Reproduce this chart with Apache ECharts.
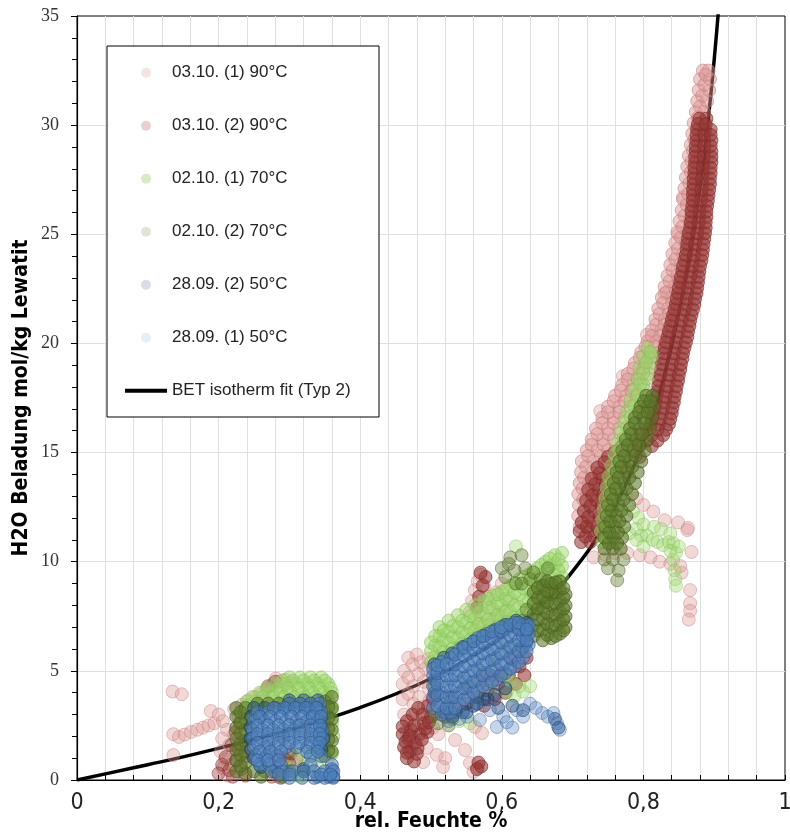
<!DOCTYPE html>
<html>
<head>
<meta charset="utf-8">
<script src="https://cdn.jsdelivr.net/npm/echarts@6/dist/echarts.min.js"></script>
<style>
  html, body { margin: 0; background: #fff; }
  #chart { width: 790px; height: 832px; }
</style>
</head>
<body>
<div id="chart"></div>
<script>
// Wasserbeladung Lewatit vs. rel. Feuchte, Messreihen + BET-Fit.

const NAMES = ['03.10. (1) 90°C', '03.10. (2) 90°C', '02.10. (1) 70°C', '02.10. (2) 70°C',
  '28.09. (2) 50°C', '28.09. (1) 50°C', 'BET isotherm fit (Typ 2)']

// --- 03.10. (1) 90°C
const P1_LEFT = [[0.135,4.05],[0.148,3.93],[0.189,3.16],[0.136,2.1],[0.144,1.97],[0.152,2.08],[0.161,2.2],
  [0.17,2.3],[0.178,2.4],[0.186,2.5],[0.194,2.6],[0.136,1.14],[0.2,3.0],[0.206,2.7],[0.212,2.3],[0.205,1.9],
  [0.215,1.6],[0.203,1.3],[0.21,0.95],[0.206,0.55],[0.213,0.2],[0.222,3.25],[0.228,2.9],[0.222,2.1],[0.226,1.3],
  [0.218,0.7],[0.233,3.45],[0.242,3.65],[0.252,3.8],[0.26,3.95],[0.268,4.15],[0.276,4.35],[0.285,4.5],
  [0.294,4.6],[0.302,4.45],[0.281,4.65],[0.29,4.25],[0.266,3.7],[0.284,0.15],[0.296,0.9]]
const P1_MID = [[0.462,5.0],[0.468,5.6],[0.474,5.3],[0.48,5.75],[0.486,5.4],[0.492,5.1],[0.497,5.55],[0.503,5.25],
  [0.46,4.4],[0.468,4.7],[0.475,4.3],[0.482,4.85],[0.49,4.5],[0.497,4.2],[0.505,4.6],[0.46,3.7],[0.468,3.95],
  [0.475,3.5],[0.483,3.8],[0.49,3.35],[0.498,3.65],[0.505,3.1],[0.462,3.0],[0.47,2.7],[0.478,3.1],[0.487,2.55],
  [0.495,2.85],[0.503,2.4],[0.51,2.1],[0.465,2.25],[0.475,1.95],[0.486,2.05],[0.472,1.5],[0.494,1.47],
  [0.508,1.15],[0.52,1.0],[0.489,0.82],[0.534,1.83],[0.548,1.37],[0.555,0.78],[0.566,0.55],[0.562,2.43],
  [0.572,2.15],[0.517,0.6],[0.56,0.38]]
const P1_MIDUP = [[0.555,7.7],[0.558,8.2],[0.562,8.7],[0.566,9.1],[0.57,9.4],[0.575,8.9],[0.58,8.4],[0.586,7.9],
  [0.592,8.6],[0.6,9.0],[0.57,7.5],[0.582,7.1],[0.592,7.4],[0.602,7.7],[0.61,8.2],[0.565,7.0],[0.575,6.6],
  [0.588,6.8],[0.598,6.4],[0.608,6.9],[0.615,7.3]]
const P1_TRAIL = [[0.73,10.2],[0.745,10.35],[0.76,10.4],[0.777,10.4],[0.795,10.3],[0.81,10.2],[0.823,10.0],
  [0.838,9.9],[0.854,9.5],[0.866,8.7],[0.866,8.1],[0.866,7.75],[0.864,7.35],[0.862,11.45],[0.868,10.45],
  [0.852,9.8],[0.814,12.3],[0.83,11.9],[0.849,11.8],[0.863,11.55],[0.8,12.6],[0.79,12.9],
  [0.739,16.9],[0.771,18.5],[0.83,22.3],[0.849,25.0],[0.856,26.7],[0.805,20.4]]
const P1_BAND = [[11.6,0.71,0.72],[12.1,0.708,0.722],[12.6,0.709,0.725],[13.1,0.708,0.72,0.733],
  [13.6,0.71,0.723,0.737],[14.1,0.712,0.727,0.741],[14.6,0.713,0.73,0.745],[15.1,0.72,0.735,0.75],
  [15.6,0.727,0.743,0.758],[16.1,0.733,0.75,0.766],[16.6,0.742,0.758,0.774],[17.1,0.75,0.766,0.782],
  [17.6,0.76,0.776,0.79],[18.1,0.77,0.786,0.8],[18.6,0.778,0.795,0.808],[19.1,0.788,0.803,0.816],
  [19.6,0.797,0.81,0.823],[20.1,0.806,0.818,0.83],[20.6,0.812,0.825,0.836],[21.1,0.817,0.83,0.842],
  [21.6,0.821,0.835,0.848],[22.1,0.826,0.84,0.852],[22.6,0.83,0.844,0.855],[23.1,0.834,0.848],
  [23.6,0.838,0.852],[24.1,0.841,0.856],[24.6,0.845,0.86],[25.1,0.848,0.862],[25.6,0.851,0.865],
  [26.1,0.854,0.868],[26.6,0.856,0.87],[27.1,0.858,0.871],[27.6,0.86,0.873],[28.1,0.862,0.874],
  [28.6,0.864,0.876],[29.1,0.867,0.878],[29.6,0.869,0.88],[30.1,0.871,0.882],[30.6,0.874,0.886],
  [31.1,0.876,0.89],[31.6,0.878,0.893],[32.1,0.88,0.894],[32.5,0.884,0.892]]
const P1_BAND2 = [[11.85,0.715],[12.35,0.716],[12.85,0.715,0.727],[13.35,0.714,0.728],[13.85,0.716,0.731],
  [14.35,0.719,0.735],[14.85,0.722,0.74],[15.35,0.727,0.744],[15.85,0.735,0.751],[16.35,0.742,0.758],
  [16.85,0.75,0.766],[17.35,0.758,0.774],[17.85,0.768,0.783],[18.35,0.778,0.792],[18.85,0.786,0.8],
  [19.35,0.795,0.808],[19.85,0.803,0.816],[20.35,0.812,0.824],[20.85,0.818,0.83],[21.35,0.823,0.836],
  [21.85,0.828,0.841],[22.35,0.833,0.846],[22.85,0.837,0.85],[23.35,0.841],[23.85,0.845],[24.35,0.849],
  [24.85,0.853],[25.35,0.855],[25.85,0.858],[26.35,0.861],[26.85,0.863],[27.35,0.865],[27.85,0.867],
  [28.35,0.868],[28.85,0.87],[29.35,0.872],[29.85,0.875],[30.35,0.877],[30.85,0.88],[31.35,0.883],
  [31.85,0.886],[32.3,0.888]]

// --- 03.10. (2) 90°C
const R2_LEFT = [[0.2,0.3],[0.205,0.7],[0.21,1.05],[0.215,0.45],[0.22,0.15],[0.225,0.9],[0.228,1.4],[0.232,0.5],
  [0.235,1.8],[0.24,1.1],[0.218,1.6],[0.224,2.2],[0.23,2.6],[0.238,0.2],[0.275,0.15],[0.288,0.1],[0.292,1.0],
  [0.302,1.2],[0.31,0.95],[0.3,0.75],[0.295,0.4],[0.285,1.1],[0.27,4.3],[0.28,4.5]]
const R2_MID = [[0.462,1.5],[0.468,1.9],[0.472,2.3],[0.478,1.7],[0.484,2.1],[0.49,2.6],[0.495,2.2],[0.5,2.9],
  [0.466,2.7],[0.474,3.0],[0.482,3.3],[0.488,3.0],[0.496,3.4],[0.503,3.7],[0.47,1.3],[0.46,2.1],[0.466,1.0],
  [0.476,0.85],[0.48,1.2],[0.464,1.75],[0.47,2.05],[0.476,2.5],[0.481,1.45],[0.487,1.85],[0.492,2.35],
  [0.497,2.65],[0.46,2.45],[0.466,1.25],
  [0.52,2.9],[0.535,3.2],[0.55,3.5],[0.565,3.8],[0.58,4.1],[0.595,4.4],[0.61,4.8],
  [0.625,5.2],[0.635,5.6],[0.575,3.4],[0.59,3.7],[0.605,4.0],[0.62,4.4],[0.632,4.8],[0.6,4.9],[0.615,5.5],
  [0.628,6.0],[0.57,4.5],[0.585,4.8],[0.55,4.2],[0.53,3.8],[0.565,7.9],[0.568,8.4],[0.573,8.9],[0.577,9.3],
  [0.57,9.5],[0.565,0.5],[0.567,0.8],[0.571,0.62]]
const R2_BAND = [[10.9,0.712,0.725],[11.4,0.71,0.724,0.738],[11.8,0.713,0.728,0.743],[12.3,0.716,0.731,0.746],
  [12.8,0.719,0.734,0.748],[13.3,0.722,0.737,0.752],[13.8,0.727,0.742,0.758],[14.3,0.735,0.755,0.775],
  [14.8,0.75,0.775,0.795],[15.3,0.77,0.795,0.812],[15.8,0.795,0.812,0.828],[16.3,0.81,0.822,0.836],
  [16.8,0.814,0.826,0.84],[17.3,0.817,0.83,0.843],[17.8,0.82,0.833,0.846],[18.3,0.822,0.836,0.849],
  [18.8,0.825,0.839,0.852],[19.3,0.828,0.842,0.855],[19.8,0.83,0.845,0.858],[20.3,0.834,0.848,0.862],
  [20.8,0.838,0.852,0.865],[21.3,0.842,0.856,0.868],[21.8,0.846,0.86,0.872],[22.3,0.849,0.862,0.875],
  [22.8,0.852,0.865,0.877],[23.3,0.855,0.868,0.879],[23.8,0.858,0.87,0.882],[24.3,0.861,0.872,0.884],
  [24.8,0.863,0.875,0.886],[25.3,0.866,0.877,0.888],[25.8,0.868,0.879,0.889],[26.3,0.869,0.88,0.89],
  [26.8,0.87,0.882,0.892],[27.3,0.871,0.883,0.894],[27.8,0.872,0.884,0.895],[28.3,0.873,0.885,0.896],
  [28.8,0.874,0.886,0.896],[29.3,0.875,0.886,0.896],[29.8,0.876,0.887,0.895],[30.3,0.879,0.889]]
const R2_BAND2 = [[11.15,0.718,0.731],[11.6,0.72,0.735],[12.05,0.722,0.738],[12.55,0.725,0.741],
  [13.05,0.728,0.743],[13.55,0.732,0.747],[14.05,0.738,0.752],[14.55,0.745,0.765],[15.05,0.76,0.785],
  [15.55,0.785,0.805,0.82],[16.05,0.805,0.82,0.832],[16.55,0.812,0.824,0.838],[17.05,0.816,0.828,0.841],
  [17.55,0.818,0.831,0.844],[18.05,0.821,0.834,0.847],[18.55,0.824,0.837,0.85],[19.05,0.826,0.84,0.853],
  [19.55,0.829,0.843,0.856],[20.05,0.832,0.846,0.86],[20.55,0.836,0.85,0.863],[21.05,0.84,0.854,0.866],
  [21.55,0.844,0.858,0.87],[22.05,0.847,0.861,0.873],[22.55,0.85,0.863,0.876],[23.05,0.853,0.866,0.878],
  [23.55,0.856,0.869,0.88],[24.05,0.86,0.871,0.883],[24.55,0.862,0.873,0.885],[25.05,0.864,0.876,0.887],
  [25.55,0.867,0.878,0.888],[26.05,0.868,0.879,0.889],[26.55,0.87,0.881,0.891],[27.05,0.87,0.882,0.893],
  [27.55,0.871,0.883,0.894],[28.05,0.872,0.884,0.895],[28.55,0.873,0.885,0.896],[29.05,0.874,0.886,0.895],
  [29.55,0.875,0.886,0.895],[30.05,0.877,0.888]]

// --- 02.10. (1) 70°C
const G3_LEFT = [[4.7,0.3,0.315,0.33,0.345],[4.4,0.28,0.295,0.31,0.325,0.34,0.355],
  [4.0,0.258,0.272,0.287,0.302,0.318,0.333,0.348,0.36],[3.6,0.24,0.252,0.266,0.28,0.295,0.31,0.325,0.34,0.355],
  [3.2,0.236,0.25,0.265,0.36],[2.6,0.238,0.36],[2.0,0.362],[1.2,0.315,0.33,0.345,0.36],[0.6,0.3,0.32,0.34],
  [0.2,0.31,0.318],[4.55,0.29,0.305,0.32,0.335,0.35],[4.2,0.268,0.283,0.298,0.313,0.328,0.343,0.358],
  [3.8,0.248,0.262,0.277,0.292,0.307,0.322,0.337,0.352],[3.4,0.24,0.255,0.36]]
const G3_MID = [[0.5,5.4,5.9,6.3],[0.512,5.6,6.1,6.6,7.0],[0.525,5.8,6.3,6.8,7.3],[0.538,6.0,6.5,7.0,7.55],
  [0.55,6.2,6.7,7.2,7.8],[0.562,6.4,6.9,7.4,8.0],[0.575,6.6,7.1,7.6,8.2],[0.588,6.8,7.3,7.8,8.45],
  [0.6,7.0,7.5,8.0,8.6],[0.612,7.2,7.7,8.3,8.9],[0.625,7.4,7.9,8.5,9.2],[0.638,7.6,8.2,8.8,9.4],
  [0.65,8.0,8.6,9.2,9.7],[0.662,8.4,9.0,9.6,10.0],[0.675,8.8,9.4,9.9,10.3],[0.685,9.3,9.8,10.4],
  [0.506,5.65,6.15,6.6],[0.518,5.9,6.4,6.85],[0.531,6.05,6.55,7.05],[0.544,6.25,6.75,7.3],
  [0.556,6.45,6.95,7.5],[0.568,6.65,7.15,7.7],[0.581,6.85,7.35,7.9,8.3],[0.594,7.05,7.55,8.1,8.5],
  [0.606,7.25,7.75,8.3,8.75],[0.618,7.45,8.0,8.6,9.0],[0.631,7.65,8.2,8.8,9.3],[0.644,8.0,8.5,9.1,9.55],
  [0.656,8.4,8.9,9.4,9.85],[0.668,8.8,9.3,9.8,10.15],[0.68,9.1,9.6,10.1]]
const G3_ISO = [[0.607,4.7],[0.607,4.0],[0.618,3.85],[0.63,4.05],[0.64,4.3],[0.625,4.3],[0.562,4.3],[0.583,4.1],
  [0.54,2.7],[0.555,2.6],[0.62,10.7],[0.612,4.5],
  [0.78,11.3],[0.79,11.5],[0.797,11.2],[0.805,11.2],[0.813,11.0],[0.82,10.9],[0.828,10.76],[0.836,10.9],
  [0.842,10.85],[0.846,10.4],[0.842,10.08],[0.844,9.6],[0.845,9.2],[0.846,8.9],[0.793,12.0],[0.8,11.7],
  [0.785,12.3],[0.79,11.0],[0.8,10.7],[0.815,11.6],[0.825,11.5],[0.838,11.3],[0.85,10.7],[0.838,10.5]]
const G3_BAND = [[10.9,0.742,0.752],[11.4,0.74,0.752],[11.9,0.742,0.755],[12.4,0.744,0.757],[12.9,0.746,0.76],
  [13.4,0.748,0.763],[13.9,0.751,0.766],[14.4,0.755,0.77],[14.9,0.759,0.775],[15.4,0.763,0.779],
  [15.9,0.767,0.784],[16.4,0.772,0.788],[16.9,0.777,0.792],[17.4,0.782,0.797],[17.9,0.787,0.801],
  [18.4,0.791,0.805],[18.9,0.795,0.809],[19.4,0.8,0.812],[19.8,0.806],
  [11.15,0.746],[11.65,0.747],[12.15,0.748],[12.65,0.75],[13.15,0.753],[13.65,0.756],[14.15,0.76],
  [14.65,0.764],[15.15,0.768],[15.65,0.772],[16.15,0.777],[16.65,0.782],[17.15,0.787],[17.65,0.792],
  [18.15,0.796],[18.65,0.8],[19.15,0.804],[19.6,0.81]]

// --- 02.10. (2) 70°C
const D4_LEFT = [[0.225,0.4,0.9,1.4,1.9,2.4,2.9,3.3],[0.238,0.3,0.8,1.3,1.8,2.3,2.8,3.3],
  [0.35,1.1,1.6,2.1,2.6,3.1,3.6],[0.36,1.3,1.8,2.3,2.8,3.3,3.8],
  [0.231,0.65,1.15,1.65,2.15,2.65,3.1],[0.355,1.35,1.85,2.35,2.85,3.35]]
const D4_LEFT_ROWS = [[3.5,0.255,0.27,0.285,0.3,0.315,0.33],[0.4,0.25,0.265,0.28,0.3,0.32],[0.15,0.26,0.29]]
const D4_MID = [[0.645,6.6,7.1,7.6,8.1,8.6],[0.658,6.4,6.9,7.4,7.9,8.4,8.9],[0.67,6.5,7.0,7.5,8.0,8.5,9.0],
  [0.682,6.7,7.2,7.7,8.2,8.7,9.1],[0.69,7.0,7.5,8.0,8.5],
  [0.651,6.85,7.35,7.85,8.35,8.8],[0.664,6.65,7.15,7.65,8.15,8.65,9.1],[0.676,6.6,7.1,7.6,8.1,8.6,9.05],
  [0.687,6.85,7.35,7.85,8.35,8.8]]
const D4_ISO = [[0.27,1.5],[0.29,2.0],[0.31,2.5],[0.33,2.0],[0.3,1.3],
  [0.63,7.3],[0.635,7.8],[0.625,6.9],[0.605,9.3],[0.61,9.9],[0.612,10.2],[0.62,9.0],[0.618,9.6],[0.628,10.3],
  [0.633,9.7],[0.64,9.2],[0.645,9.5],[0.655,9.2],[0.665,9.7],[0.6,9.7],[0.628,9.0],[0.505,3.0],[0.51,2.6],
  [0.52,3.3],[0.53,2.8],[0.515,3.8],[0.505,4.3],[0.535,3.1],[0.525,2.5],[0.55,4.5],[0.57,5.0],[0.59,5.5],
  [0.61,6.0],[0.63,6.3],[0.565,3.8],
  [0.745,10.1],[0.757,10.1],[0.765,9.6],[0.763,9.15],[0.75,9.7],[0.772,10.1]]
const D4_BAND = [[10.6,0.745,0.757,0.768],[11.1,0.745,0.758,0.77],[11.6,0.746,0.76,0.773],[12.1,0.748,0.762,0.776],
  [12.6,0.75,0.765,0.78],[13.1,0.754,0.769,0.784],[13.6,0.758,0.773,0.788],[14.1,0.762,0.777,0.792],
  [14.6,0.766,0.781,0.797],[15.1,0.77,0.786,0.802],[15.6,0.775,0.79,0.805],[16.1,0.781,0.795,0.809],
  [16.6,0.788,0.8,0.812],[17.1,0.796,0.806,0.814],[17.6,0.804,0.813],
  [10.85,0.751,0.763],[11.35,0.752,0.764],[11.85,0.753,0.766],[12.35,0.755,0.769],[12.85,0.757,0.772],
  [13.35,0.761,0.776],[13.85,0.765,0.78],[14.35,0.769,0.784],[14.85,0.773,0.789],[15.35,0.778,0.794],
  [15.85,0.783,0.798],[16.35,0.788,0.802],[16.85,0.794,0.806],[17.35,0.801,0.81]]

// --- 28.09. (2) 50°C
const N5_LEFT = [[3.65,0.3,0.32,0.34],[3.3,0.25,0.265,0.28,0.295,0.31,0.325,0.34],[2.9,0.246,0.26,0.33,0.345],
  [2.4,0.245,0.345],[1.9,0.245,0.348],[1.4,0.246,0.345],[1.0,0.25,0.265],[0.6,0.26,0.28],[0.5,0.32,0.36],
  [0.15,0.34,0.355,0.362]]
const N5_MID = [[0.505,4.0],[0.505,4.6],[0.505,5.3],[0.518,5.6],[0.518,3.1],[0.53,5.8],[0.53,2.9],[0.545,6.1],
  [0.545,3.1],[0.56,6.35],[0.56,3.4],[0.575,6.6],[0.575,3.7],[0.59,6.85],[0.59,3.9],[0.605,7.1],[0.605,4.2],
  [0.62,7.3],[0.62,7.0],[0.635,7.2],[0.635,6.8],[0.635,6.3],[0.565,3.5],[0.58,3.7],[0.595,3.3],[0.55,3.1],
  [0.615,3.4],[0.63,3.2],[0.675,2.8],[0.68,2.4]]

// --- 28.09. (1) 50°C
const B6_LEFT = [[3.5,0.3,0.315,0.33,0.343],[3.1,0.255,0.27,0.285,0.3,0.315,0.33,0.345],
  [2.7,0.25,0.265,0.28,0.295,0.31,0.325,0.34],[2.3,0.248,0.262,0.277,0.292,0.307,0.322,0.337,0.347],
  [1.9,0.248,0.262,0.277,0.292,0.307,0.322,0.337,0.347],[1.5,0.25,0.265,0.28,0.295,0.31,0.325,0.34],
  [1.1,0.252,0.267,0.282,0.33,0.345],[0.7,0.258,0.272,0.288,0.33,0.36],[0.4,0.275,0.29,0.305,0.32,0.335,0.35,0.362],
  [0.1,0.3,0.318,0.335,0.35,0.362],
  [3.3,0.278,0.293,0.308,0.323,0.338],[2.9,0.258,0.273,0.288,0.303,0.318,0.333,0.345],
  [2.5,0.255,0.27,0.285,0.3,0.315,0.33,0.343],[2.1,0.255,0.27,0.285,0.3,0.315,0.33,0.343],
  [1.7,0.255,0.27,0.285,0.3,0.315,0.33,0.343],[1.3,0.258,0.273,0.288,0.325,0.34],[0.9,0.255,0.27,0.285],
  [0.25,0.285,0.3,0.345,0.358]]
const B6_MID = [[0.503,3.3,3.8,4.3,4.8,5.1],[0.515,3.0,3.5,4.0,4.5,5.0,5.4],[0.528,3.1,3.6,4.1,4.6,5.1,5.6],
  [0.54,3.5,4.0,4.5,5.0,5.5,5.95],[0.553,3.8,4.3,4.8,5.3,5.8,6.2],[0.566,4.1,4.6,5.1,5.6,6.1,6.5],
  [0.579,4.4,4.9,5.4,5.9,6.4,6.7],[0.592,4.6,5.1,5.6,6.1,6.6,6.9],[0.605,4.9,5.4,5.9,6.4,6.9,7.1],
  [0.618,5.2,5.7,6.2,6.7,7.2],[0.63,5.6,6.1,6.6,7.1],[0.638,6.2,6.7,7.1],
  [0.509,3.4,3.9,4.4,4.9,5.25],[0.522,3.3,3.8,4.3,4.8,5.3],[0.534,3.3,3.8,4.3,4.8,5.3,5.75],
  [0.547,3.7,4.2,4.7,5.2,5.7,6.05],[0.56,4.0,4.5,5.0,5.5,6.0,6.35],[0.573,4.3,4.8,5.3,5.8,6.3,6.6],
  [0.586,4.5,5.0,5.5,6.0,6.5,6.8],[0.599,4.8,5.3,5.8,6.3,6.8,7.0],[0.612,5.1,5.6,6.1,6.6,7.1],
  [0.624,5.4,5.9,6.4,6.9,7.2],[0.635,5.9,6.4,6.9]]
const B6_TRAIL = [[0.525,2.7],[0.54,2.8],[0.551,2.9],[0.569,2.75],[0.593,2.43],[0.602,2.9],[0.621,3.2],
  [0.64,3.5],[0.657,3.07],[0.673,3.07],[0.678,2.6],[0.682,2.3],[0.583,3.2],[0.565,3.5],[0.607,2.65],
  [0.63,2.9],[0.648,3.3],[0.665,2.9],[0.615,2.4]]

// --- BET isotherm fit (Typ 2)
const BET_X = [0, 0.05, 0.1, 0.15, 0.2, 0.25, 0.3, 0.35, 0.4, 0.45, 0.5, 0.55, 0.6, 0.65, 0.7, 0.75,
  0.78, 0.8, 0.82, 0.84, 0.86, 0.87, 0.88, 0.89, 0.9, 0.91]
const BET_Y = [0, 0.35, 0.7, 1.06, 1.45, 1.86, 2.3, 2.78, 3.32, 3.94, 4.65, 5.5, 6.53, 7.84, 9.56, 11.95,
  13.9, 15.5, 17.4, 19.9, 23.0, 24.9, 27.2, 29.8, 33.0, 36.9]

// Farbe RGB, Rand RGB, Alpha locker/dicht, Legendensymbol
const STYLES = [
  ['217,150,148', '200,120,118', 0.45, 0.6, '#f1dede'],
  ['149,55,53', '130,40,38', 0.5, 0.72, '#e3c4c4'],
  ['155,213,105', '128,192,82', 0.45, 0.62, '#cfe5b6'],
  ['92,120,40', '72,92,32', 0.5, 0.72, '#d9dfca'],
  ['31,73,125', '20,48,85', 0.6, 0.6, '#cfd5e0'],
  ['79,129,189', '44,82,140', 0.4, 0.68, '#e2eaf4']
]

const byRow = rows => rows.flatMap(([y, ...xs]) => xs.map(x => [x, y]))
const byCol = cols => cols.flatMap(([x, ...ys]) => ys.map(y => [x, y]))

// [locker, dicht] je Messreihe
const SETS = [
  [[...P1_LEFT, ...P1_MID, ...P1_MIDUP, ...P1_TRAIL], [...byRow(P1_BAND), ...byRow(P1_BAND2)]],
  [[...R2_LEFT], [...R2_MID, ...byRow(R2_BAND), ...byRow(R2_BAND2)]],
  [[...G3_ISO], [...byRow(G3_LEFT), ...byCol(G3_MID), ...byRow(G3_BAND)]],
  [[...D4_ISO], [...byCol(D4_LEFT), ...byRow(D4_LEFT_ROWS), ...byCol(D4_MID), ...byRow(D4_BAND)]],
  [[...N5_MID], [...byRow(N5_LEFT)]],
  [[...B6_TRAIL], [...byRow(B6_LEFT), ...byCol(B6_MID)]]
]

const NARROW = "'Liberation Sans Narrow', 'DejaVu Sans Condensed', 'Liberation Sans', sans-serif"
const comma = v => String(v).replace('.', ',')

const chart = echarts.init(document.getElementById('chart'), null, { renderer: 'canvas' })

const scatter = SETS.flatMap(([loose, dense], i) => {
  const [rgb, brd, a1, a2] = STYLES[i]
  return [[loose, a1], [dense, a2]].map(([d, a]) => ({
    name: NAMES[i], type: 'scatter', data: d, symbolSize: 13, z: 3,
    itemStyle: { color: `rgba(${rgb},${a})`, borderColor: `rgba(${brd},${Math.min(1, a + 0.1)})`, borderWidth: 1 },
    emphasis: { disabled: true }
  }))
})

const legendData = NAMES.map((n, i) => i < 6
  ? { name: n, itemStyle: { color: STYLES[i][4], borderColor: 'transparent', borderWidth: 0 } }
  : { name: n, icon: 'path://M0,0H42V4H0Z', itemStyle: { color: '#000', borderWidth: 0 } })

chart.setOption({
  animation: false,
  grid: {
    left: 77, right: 5, top: 16, bottom: 52, outerBoundsMode: 'none', containLabel: false,
    show: true, borderColor: '#000', borderWidth: 1, backgroundColor: 'transparent'
  },
  legend: {
    orient: 'vertical', left: 125, top: 62.7, padding: 0, itemGap: 33,
    itemWidth: 42, itemHeight: 10, selectedMode: false, z: 10,
    textStyle: { fontFamily: "'Liberation Sans', sans-serif", fontSize: 17, lineHeight: 20, color: '#222' },
    data: legendData
  },
  graphic: [{
    type: 'rect', z: 9, shape: { x: 107, y: 46, width: 272, height: 371 },
    style: { fill: '#fff', stroke: '#000', lineWidth: 1 }
  }],
  xAxis: {
    type: 'value', min: 0, max: 1, interval: 0.2,
    name: 'rel. Feuchte %', nameLocation: 'middle', nameGap: 31, nameMoveOverlap: false,
    nameTextStyle: { fontFamily: NARROW, fontWeight: 'bold', fontSize: 21, color: '#000' },
    axisLine: { lineStyle: { color: '#000', width: 1.2 } },
    axisTick: { inside: true, length: 5, lineStyle: { color: '#000' } },
    minorTick: { show: true, splitNumber: 5, length: 5, lineStyle: { color: '#000' } },
    splitLine: { show: true, showMaxLine: false, lineStyle: { color: '#e0e0e0' } },
    minorSplitLine: { show: true, lineStyle: { color: '#e0e0e0' } },
    axisLabel: { margin: 12, fontFamily: NARROW, fontSize: 23, color: '#222', formatter: comma }
  },
  yAxis: {
    type: 'value', min: 0, max: 35, interval: 5,
    name: 'H2O Beladung mol/kg Lewatit', nameLocation: 'middle', nameGap: 45, nameRotate: 90, nameMoveOverlap: false,
    nameTextStyle: { fontFamily: NARROW, fontWeight: 'bold', fontSize: 21, color: '#000' },
    axisLine: { show: true, lineStyle: { color: '#000', width: 1.2 } },
    axisTick: { show: true, length: 6, lineStyle: { color: '#000' } },
    minorTick: { show: true, splitNumber: 5, length: 5, lineStyle: { color: '#000' } },
    splitLine: { show: true, showMaxLine: false, lineStyle: { color: '#e0e0e0' } },
    axisLabel: { margin: 18, fontFamily: "'Liberation Serif', serif", fontSize: 18, color: '#333' }
  },
  series: [
    ...scatter,
    {
      name: NAMES[6], type: 'line', data: BET_X.map((x, i) => [x, BET_Y[i]]),
      smooth: true, symbol: 'none', z: 2, clip: true,
      lineStyle: { color: '#000', width: 3.5 }, itemStyle: { color: '#000' }
    }
  ]
})
</script>
</body>
</html>
